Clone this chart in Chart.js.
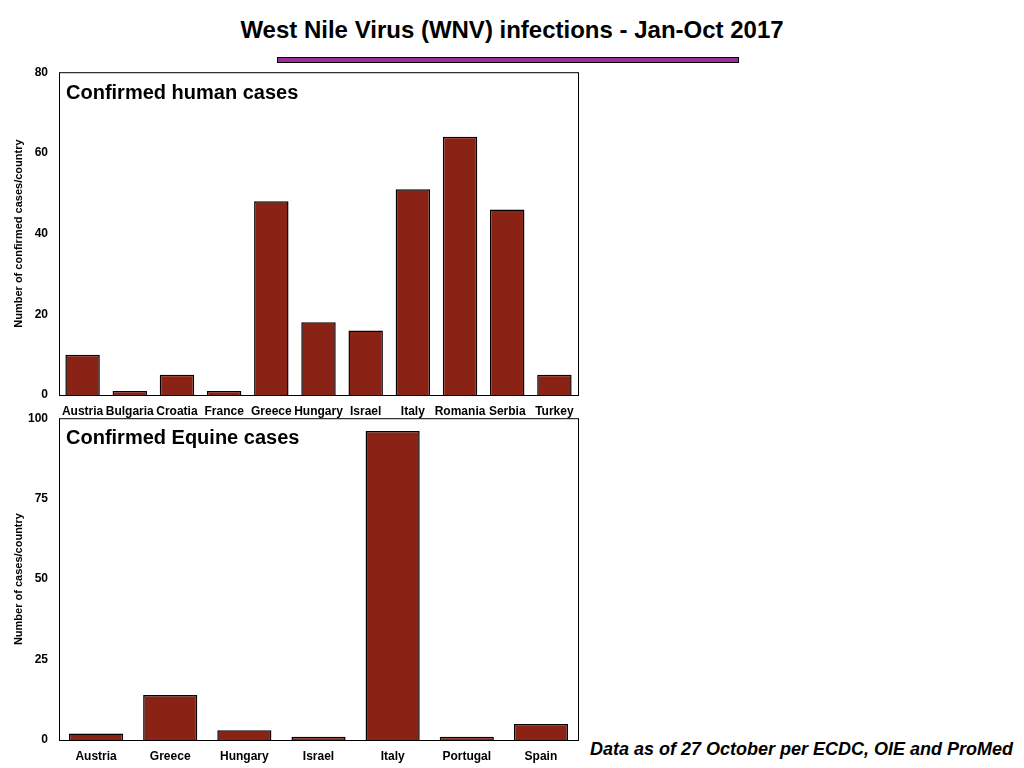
<!DOCTYPE html>
<html>
<head>
<meta charset="utf-8">
<script src="https://cdn.jsdelivr.net/npm/chart.js@4"></script>
<style>
  body { margin: 0; width: 1024px; height: 768px; background: #fff; position: relative; overflow: hidden; font-family: "Liberation Sans", Arial, sans-serif; }
  #title { position: absolute; left: 0; width: 1024px; top: 16px; text-align: center; font-size: 24px; font-weight: bold; color: #000; }
  #bar { position: absolute; left: 277px; top: 57px; width: 460px; height: 4px; background: #9a2d9a; border: 1.5px solid #000; }
  .box { position: absolute; }
  .label { position: absolute; left: 66px; font-size: 20px; font-weight: bold; color: #000; }
  #note { position: absolute; left: 590px; top: 739px; font-size: 18px; font-weight: bold; font-style: italic; color: #000; }
</style>
</head>
<body>
<div id="title">West Nile Virus (WNV) infections - Jan-Oct 2017</div>
<div id="bar"></div>
<div class="box" style="left:0;top:62px;width:590px;height:360px;"><canvas id="humanChart"></canvas></div>
<div class="box" style="left:0;top:408px;width:590px;height:360px;"><canvas id="equineChart"></canvas></div>
<div class="label" style="top:81px;">Confirmed human cases</div>
<div class="label" style="top:426px;">Confirmed Equine cases</div>
<div id="note">Data as of 27 October per ECDC, OIE and ProMed</div>
<script>
// 사람 감염 데이터
const humanCountries = ["Austria", "Bulgaria", "Croatia", "France", "Greece", "Hungary", "Israel", "Italy", "Romania", "Serbia", "Turkey"];
const humanCases = [10, 1, 5, 1, 48, 18, 16, 51, 64, 46, 5];
const humanTicks = [0, 20, 40, 60, 80];

// 말 감염 데이터
const equineCountries = ["Austria", "Greece", "Hungary", "Israel", "Italy", "Portugal", "Spain"];
const equineCases = [2, 14, 3, 1, 96, 1, 5];
const equineTicks = [0, 25, 50, 75, 100];

// 플롯 영역 테두리
const boxPlugin = {
  id: "box",
  afterDraw(chart) {
    const a = chart.chartArea;
    const ctx = chart.ctx;
    ctx.save();
    ctx.strokeStyle = "#000";
    ctx.lineWidth = 1;
    ctx.strokeRect(a.left + 0.5, a.top + 0.5, a.right - a.left, a.bottom - a.top);
    ctx.restore();
  },
};

function makeChart(id, labels, values, ticks, yTitle, xHeight, xPad) {
  const ctx = document.getElementById(id).getContext("2d");
  return new Chart(ctx, {
    type: "bar",
    data: {
      labels: labels,
      datasets: [
        {
          data: values,
          backgroundColor: "#8a2215",
          borderColor: "#000",
          borderWidth: 1.5,
          categoryPercentage: 0.73,
          barPercentage: 1,
        },
      ],
    },
    options: {
      responsive: true,
      maintainAspectRatio: false,
      animation: false,
      layout: { padding: { top: 3, right: 12, left: 12, bottom: 0 } },
      plugins: { legend: { display: false }, tooltip: { enabled: false } },
      scales: {
        x: {
          grid: { display: false },
          border: { display: false },
          ticks: { color: "#000", font: { family: "Liberation Sans", size: 12, weight: "bold" }, maxRotation: 0, autoSkip: false, padding: xPad },
          afterFit(scale) { scale.height = xHeight; },
        },
        y: {
          min: 0,
          max: ticks[ticks.length - 1],
          afterBuildTicks(scale) { scale.ticks = ticks.map((v) => ({ value: v })); },
          grid: { display: false },
          border: { display: false },
          ticks: { color: "#000", font: { family: "Liberation Sans", size: 12, weight: "bold" }, padding: 3 },
          title: { display: true, text: yTitle, color: "#000", font: { family: "Liberation Sans", size: 11, weight: "bold" }, padding: 0 },
          afterFit(scale) { scale.width = 47; },
        },
      },
    },
    plugins: [boxPlugin],
  });
}

window.onload = function () {
  makeChart("humanChart", humanCountries, humanCases, humanTicks, "Number of confirmed cases/country", 27, 1);
  makeChart("equineChart", equineCountries, equineCases, equineTicks, "Number of cases/country", 28, 1);
};
</script>
</body>
</html>
